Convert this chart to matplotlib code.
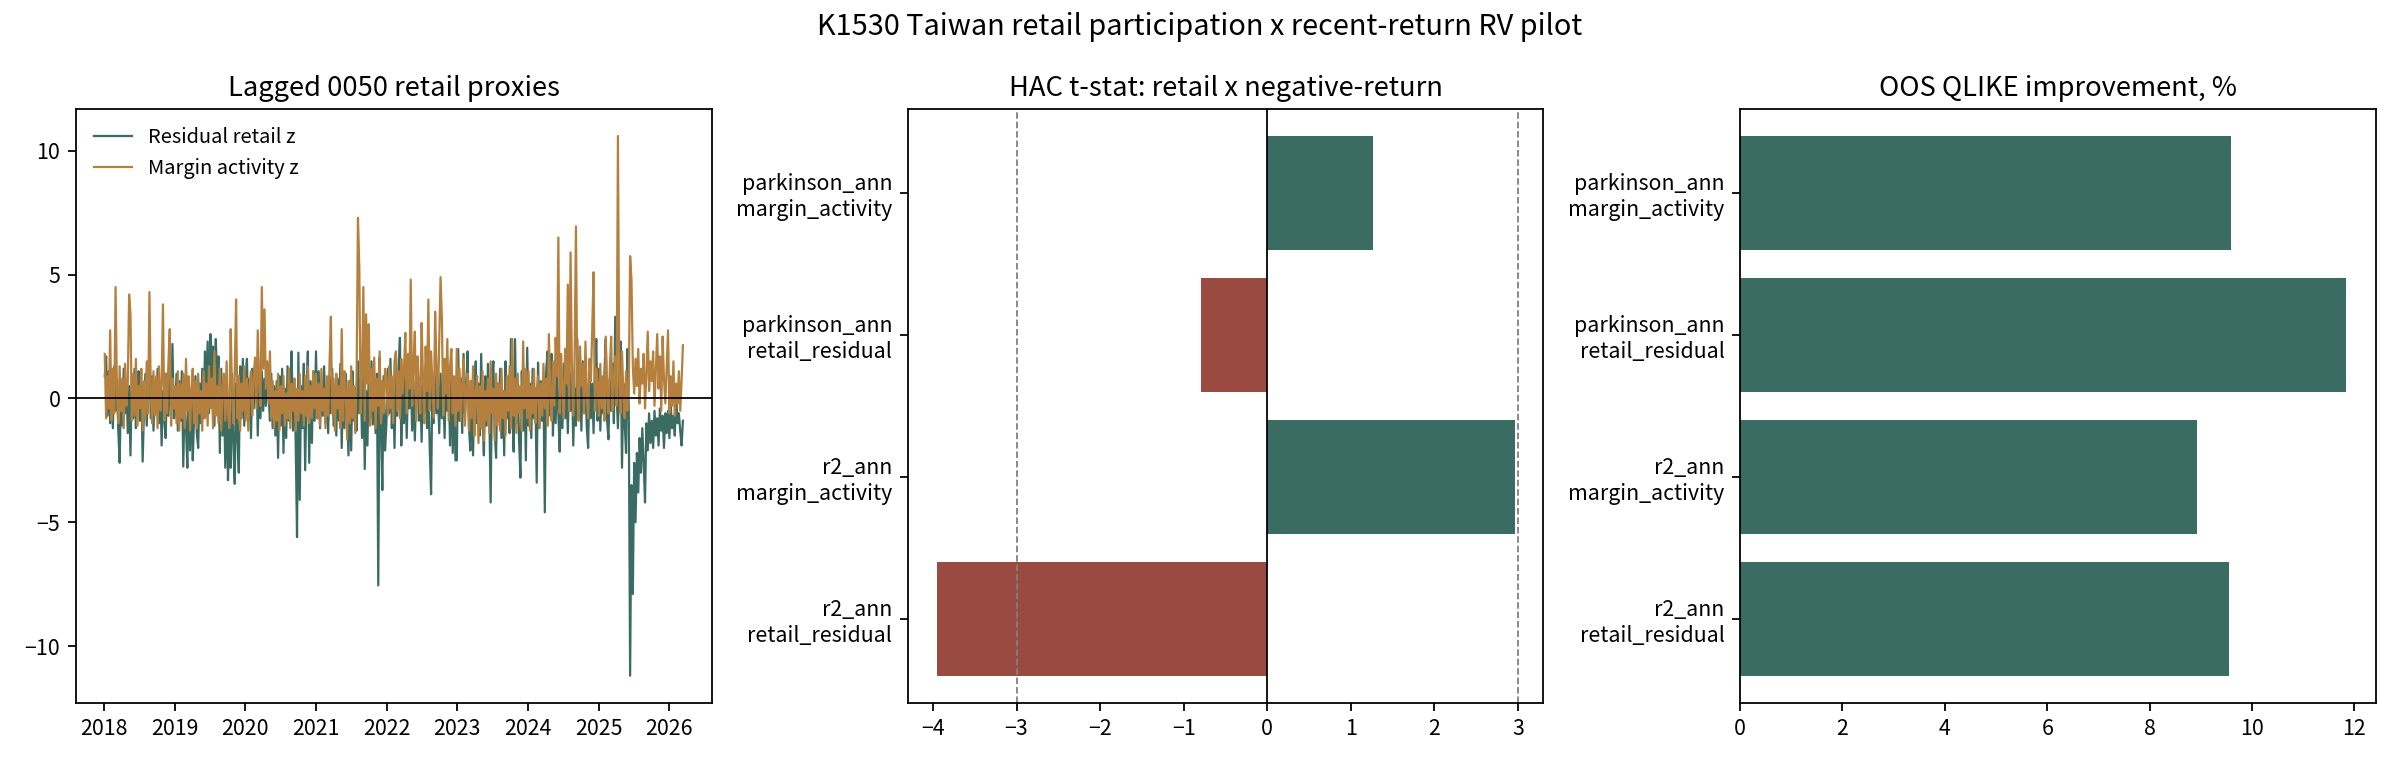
import matplotlib
matplotlib.use("Agg")
import matplotlib.pyplot as plt
import pandas as pd

plt.rcParams['font.family'] = ['Noto Sans CJK SC', 'DejaVu Sans']
plt.rcParams['axes.unicode_minus'] = True
plt.rcParams['xtick.labelsize'] = 9.6
plt.rcParams['ytick.labelsize'] = 9.6

GREEN = '#3b6c64'
ORANGE = '#b5803e'
RED = '#9a4b41'

# weekly readings of the two lagged proxies, one list per year
retail_2018 = [0.9, 1.7, -0.7, 1.1, -1.0, 0.6, -1.2, 1.3, -0.5, 0.8, -1.3, -2.6, 0.4, -1.1, 1.2, -0.6, 0.7, -1.4, 0.5, -2.3,
               0.9, -0.8, 1.2, -1.2, 0.3, 1.1, -0.9, 0.6, -2.55, -0.4, 1.0, -1.1, 0.5, 1.6, -0.8, 0.9, -1.3, 0.4, -0.6, 1.2,
               -1.0, 0.7, -1.9, 0.3, -0.9, -1.6, 1.0, -0.7, 1.3, -0.5, 2.2, -0.8]
retail_2019 = [-0.6, 1.0, -1.3, 0.7, -0.9, 1.1, -2.75, 0.2, -1.2, -2.8, 0.8, -2.1, 0.4, -2.5, -0.7, 0.9, -1.4, -2.0, 0.6, -1.0,
               1.2, -0.8, 1.9, 0.3, 2.3, -0.6, 2.6, 0.8, 2.1, -1.1, 2.4, 0.5, 1.7, -2.2, 1.2, -1.5, 0.4, -2.8, 0.9, -3.3,
               -1.2, -2.8, 1.0, -1.9, -3.45, 0.6, -1.6, -3.0, 1.3, -0.8, 1.6, -1.1]
retail_2020 = [0.7, 1.6, -0.9, 0.8, -1.6, 1.2, -0.4, 0.9, 1.5, -1.5, 0.6, -0.8, 1.1, -0.5, 0.8, -0.3, 1.4, 0.2, -0.9, 1.0,
               -1.2, 0.5, -1.5, 0.7, -2.4, 0.9, -1.1, 1.2, -2.2, 0.4, -1.6, 1.3, -0.9, 0.6, 1.9, -1.3, 0.8, -1.7, -5.6, 1.85,
               -4.1, 0.5, -1.2, 1.4, -2.9, 0.3, 1.9, -2.6, 0.7, -1.8, 1.1, -0.9]
retail_2021 = [1.9, -0.8, 1.1, -1.2, 0.6, -0.7, 1.3, -1.0, 0.4, -1.4, 0.9, -0.6, 1.2, -1.1, 0.5, -1.5, 0.8, -0.9, 1.4, -2.0,
               0.6, -1.2, 1.0, -0.7, -2.3, 0.7, -2.1, 1.1, -0.9, 0.4, -1.3, 1.5, -0.6, 0.8, -1.6, 1.2, -2.85, 0.3, -1.9, 1.2,
               -0.8, 1.5, -1.05, 0.6, -1.4, 1.0, -7.55, 1.65, -0.9, -3.7, 0.9, -2.1]
retail_2022 = [-1.05, 1.2, -0.6, 1.6, -1.2, 0.5, -2.0, 0.9, -0.7, 1.3, 2.45, -1.9, 0.4, -1.0, 1.1, -1.6, 0.6, -0.4, 1.0, -1.3,
               0.7, -1.7, 0.3, 1.2, -0.9, 0.5, -1.75, 0.9, -0.6, 1.4, -1.2, 0.5, -2.0, -3.87, 0.8, -1.0, 1.1, -0.6, 0.7, -1.4,
               1.0, -0.8, 0.4, -1.6, 1.2, -0.5, 0.9, -1.9, 1.15, -2.2, 0.6, -2.5]
retail_2023 = [-2.5, 2.0, -0.9, 0.8, -1.4, 1.8, -0.6, 0.5, 1.9, -1.2, -2.1, 0.7, -2.3, 0.4, 1.5, -1.0, 0.6, -1.5, 1.8, -0.7,
               -2.3, 0.9, -1.1, 1.4, -0.5, -4.2, 0.8, 1.5, -1.3, -2.4, 0.6, -0.9, 1.2, -1.6, 0.3, -2.3, 1.5, -0.8, 0.9, -1.4,
               2.4, -0.6, -2.15, 2.4, -1.0, 0.7, -1.7, -3.2, 1.1, -1.3, 0.5, -2.5]
retail_2024 = [2.05, -1.1, 0.6, -1.6, 1.2, -0.8, 0.4, -3.4, 1.45, -1.2, 0.7, -0.9, 0.3, -4.6, 1.1, 1.9, -0.7, 0.8, 1.8, -1.5,
               0.5, -1.0, 1.3, -0.6, -2.15, 0.9, -1.2, 1.4, -0.8, 0.6, -1.4, 1.0, -0.5, 1.2, -1.9, 0.4, -1.1, 2.4, -0.7, 0.9,
               -1.3, 1.5, -0.6, 0.8, -1.2, -2.0, 1.1, -0.8, 0.6, -1.4, 1.3, 2.4]
retail_2025 = [-0.9, 1.2, -1.3, 0.7, -0.6, 1.0, 2.4, -0.9, -1.65, 0.8, -0.5, 1.4, -1.0, 3.3, 0.2, -1.2, 0.9, 2.3, -2.8, 0.6,
               -1.0, -2.2, 2.0, -0.4, -11.2, -3.5, -7.9, -2.6, -5.0, -2.2, -3.8, -1.6, -3.0, -1.2, -2.6, -4.2, -1.0, -2.1, -0.6, -1.8,
               -0.9, -2.0, -0.5, -1.5, -0.8, -1.9, -0.4, -1.3, -0.7, -2.0, -0.6, -1.4]
retail_2026 = [-0.5, -1.6, -0.3, -1.2, -0.7, -1.5, 0.2, -1.0, -0.6, -1.3, -1.9, -0.9]

margin_2018 = [1.8, -0.8, 0.9, -0.4, 2.75, -0.9, 1.2, -0.6, 4.5, 0.3, -1.0, 1.3, -0.5, 0.8, -1.2, 1.4, -0.3, 0.6, 4.2, 3.4,
               -0.9, 1.0, -0.7, 1.6, -1.1, 0.5, -0.4, 1.2, -1.3, 0.7, -0.8, 1.5, -0.6, 4.3, 0.2, -1.0, 1.1, -0.7, 0.9, -1.2,
               1.3, -0.5, 0.6, 3.8, -0.9, 1.0, -0.6, 1.4, 2.8, -1.1, 0.8, -0.4]
margin_2019 = [0.5, -1.0, 1.1, -1.3, 0.6, -0.8, 1.0, -1.2, 1.6, -0.5, 0.9, -1.3, 0.4, 1.2, -1.0, 0.7, -1.2, 1.0, -0.6, 0.3,
               -1.3, 1.1, -0.8, 0.6, -1.1, 1.3, -0.4, 0.8, -1.2, 1.9, -0.7, 0.5, -1.0, 1.2, -1.3, 0.4, 1.0, -0.9, 1.5, -0.6,
               -1.2, 2.8, 0.3, -1.0, 1.1, 4.0, -0.8, 0.9, -1.3, 0.6, -0.5, 1.3]
margin_2020 = [-0.9, 0.8, -1.3, 0.5, 1.1, -0.7, 0.9, 1.65, -0.4, 2.75, 0.6, -0.3, 4.5, 1.2, 3.6, 0.4, 1.5, -0.2, 1.9, -0.8,
               0.7, -1.2, 0.3, -0.9, 1.0, -1.3, 0.5, -0.6, 0.9, -1.1, 0.2, -0.8, 1.2, -1.2, 0.6, -0.5, 0.8, -1.3, 0.4, -0.9,
               1.0, -0.6, 0.3, -1.1, 0.9, -0.7, 1.3, -1.0, 0.5, -0.8, 1.1, -0.4]
margin_2021 = [1.0, -0.8, 0.6, -1.1, 1.2, -0.5, 0.4, -1.2, 0.9, -0.7, 1.4, 3.3, -0.6, 0.8, -1.3, 1.0, -0.4, 0.5, -1.2, 2.8,
               -0.9, 1.1, 0.3, -1.65, 0.7, -1.0, 1.3, -0.8, 0.5, -1.4, 1.0, 7.3, 5.3, -0.6, 0.9, 4.5, -0.9, 3.4, 0.6, 3.0,
               -1.1, 1.2, -0.5, 1.65, -1.2, 0.8, -0.3, 1.9, -1.0, 0.7, -0.6, 1.2]
margin_2022 = [0.8, -0.7, 1.3, -0.4, 0.9, -1.0, 1.5, 1.9, -0.5, 1.1, -0.8, 1.6, 0.2, 1.2, 2.65, -0.6, 1.8, 0.4, 4.8, -0.3,
               1.4, 2.7, -0.9, 1.7, 0.5, -0.6, 3.05, 0.9, -1.0, 2.1, 0.3, 4.0, -0.5, 1.9, 0.6, -0.8, 3.5, 1.2, -0.4, 2.2,
               4.9, 3.2, -0.7, 1.6, 0.2, 2.4, -0.9, 1.3, 2.0, -0.6, 0.9, -1.1]
margin_2023 = [2.0, -0.5, 1.2, -0.9, 0.6, 1.6, -1.1, 0.4, 1.0, -1.3, 0.7, -0.8, 1.3, -1.5, 0.2, 0.9, -1.8, 0.5, -1.2, 1.1,
               -1.7, 0.3, -0.9, 0.8, -1.4, 1.5, -0.6, 0.4, -1.7, 1.0, -1.1, 0.6, -1.3, 1.2, -0.8, 0.3, -1.5, 0.9, -0.5, 1.3,
               -1.2, 2.4, -0.7, 0.8, -1.4, 1.0, -0.6, 0.5, -1.3, 2.3, -0.4, 1.2]
margin_2024 = [-0.8, 1.1, -1.3, 0.5, -0.6, 1.2, -1.0, 0.3, 0.9, -1.2, 0.6, -0.7, 1.4, -0.4, 0.8, -1.1, 2.6, 0.2, -0.9, 1.5,
               -0.3, 2.45, 0.9, 6.5, -0.6, 1.8, 0.4, -0.8, 2.0, 0.6, 4.6, -0.5, 5.9, 1.3, -0.7, 1.7, 6.95, 0.3, -0.9, 2.1,
               0.5, 1.4, -0.6, 2.3, 0.2, -0.8, 1.6, 0.7, 2.75, 5.1, -0.5, 1.2]
margin_2025 = [0.6, -0.7, 1.4, -0.4, 0.9, -0.9, 2.5, 0.3, -0.6, 1.2, 2.5, -0.5, 0.8, 1.7, -0.3, 10.6, 0.5, -0.6, 1.9, 0.2,
               -0.8, 1.1, -0.5, 0.4, 5.75, 4.8, 1.3, 0.2, 1.6, 0.5, 2.0, -0.2, 1.2, 0.6, 1.8, -0.4, 1.0, 2.7, 0.3, 1.5,
               0.7, 1.9, -0.3, 1.1, 2.6, 0.4, 1.7, -0.5, 2.5, 0.8, -0.2, 1.3]
margin_2026 = [2.75, -0.6, 0.9, -0.3, 1.5, -0.7, 0.6, -0.2, 1.1, -0.5, 0.7, 2.15]

retail_z = (retail_2018 + retail_2019 + retail_2020 + retail_2021 + retail_2022
            + retail_2023 + retail_2024 + retail_2025 + retail_2026)
margin_z = (margin_2018 + margin_2019 + margin_2020 + margin_2021 + margin_2022
            + margin_2023 + margin_2024 + margin_2025 + margin_2026)
dates = pd.date_range('2018-01-05', periods=len(retail_z), freq='W-FRI')

# bar panels
labels = ['r2_ann\nretail_residual', 'r2_ann\nmargin_activity',
          'parkinson_ann\nretail_residual', 'parkinson_ann\nmargin_activity']
hac_tstat = [-3.95, 2.96, -0.79, 1.26]
qlike_gain = [9.55, 8.92, 11.83, 9.58]

fig = plt.figure(figsize=(15, 4.8), dpi=160)
ax1 = fig.add_axes([0.0316, 0.085, 0.265, 0.773])
ax2 = fig.add_axes([0.3783, 0.085, 0.2646, 0.773])
ax3 = fig.add_axes([0.725, 0.085, 0.265, 0.773])

ax1.plot(dates, retail_z, color=GREEN, lw=1.0, label='Residual retail z')
ax1.plot(dates, margin_z, color=ORANGE, lw=1.0, label='Margin activity z')
ax1.axhline(0, color='black', lw=0.8)
ax1.set_title('Lagged 0050 retail proxies', fontsize=12.3)
ax1.legend(loc='upper left', frameon=False, fontsize=9, handlelength=1.9)

bar_cols = [GREEN if v > 0 else RED for v in hac_tstat]
ax2.barh(labels, hac_tstat, color=bar_cols)
ax2.axvline(0, color='black', lw=0.8)
ax2.axvline(-3, color='gray', lw=0.8, ls='--')
ax2.axvline(3, color='gray', lw=0.8, ls='--')
ax2.set_xlim(-4.30, 3.30)
ax2.set_title('HAC t-stat: retail x negative-return', fontsize=12.3)

ax3.barh(labels, qlike_gain, color=GREEN)
ax3.set_title('OOS QLIKE improvement, %', fontsize=12.3)

fig.suptitle('K1530 Taiwan retail participation x recent-return RV pilot', fontsize=13, y=0.985)

fig.savefig('out.png', dpi=160)
